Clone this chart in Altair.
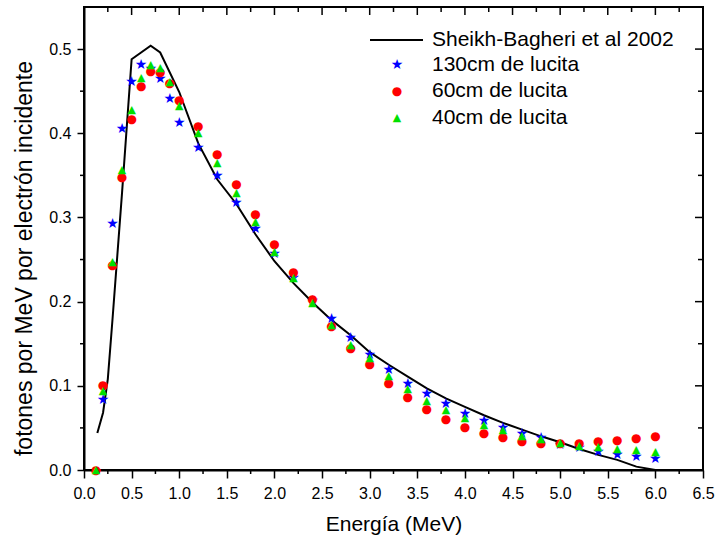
import altair as alt
import pandas as pd

# ---------------- data ----------------
series_names = ["Sheikh-Bagheri et al 2002", "130cm de lucita", "60cm de lucita", "40cm de lucita"]
series_colors = ["#000000", "#0000ff", "#ff0000", "#00e000"]
point_glyphs = ["★", "●", "▲"]
glyph_sizes = [14, 12, 11]

# Sheikh-Bagheri et al 2002 (line)
sb_energy = [0.14, 0.2, 0.25, 0.3, 0.4, 0.5, 0.7, 0.8, 1.0, 1.2, 1.4, 1.6, 1.8, 2.0, 2.2, 2.4, 2.6,
             2.8, 3.0, 3.2, 3.4, 3.6, 3.8, 4.0, 4.2, 4.4, 4.6, 4.8, 5.0, 5.2, 5.4, 5.6, 5.8, 6.0]
sb_values = [0.044, 0.068, 0.108, 0.18, 0.33, 0.488, 0.504, 0.496, 0.449, 0.388, 0.345, 0.316,
             0.280, 0.248, 0.222, 0.199, 0.178, 0.160, 0.140, 0.125, 0.111, 0.097, 0.085, 0.075,
             0.065, 0.056, 0.048, 0.040, 0.033, 0.025, 0.018, 0.012, 0.004, 0.0]

# 130cm de lucita (blue stars)
e130 = [0.2, 0.3, 0.4, 0.5, 0.6, 0.7, 0.8, 0.9, 1.0, 1.2, 1.4, 1.6, 1.8, 2.0, 2.2, 2.4, 2.6, 2.8,
        3.0, 3.2, 3.4, 3.6, 3.8, 4.0, 4.2, 4.4, 4.6, 4.8, 5.0, 5.2, 5.4, 5.6, 5.8, 6.0]
v130 = [0.083, 0.292, 0.405, 0.461, 0.481, 0.476, 0.464, 0.441, 0.412, 0.382, 0.3495, 0.3175,
        0.286, 0.256, 0.228, 0.201, 0.179, 0.157, 0.137, 0.119, 0.102, 0.090, 0.078, 0.067,
        0.058, 0.0495, 0.0427, 0.0376, 0.0297, 0.0257, 0.021, 0.0178, 0.0158, 0.0127]

# 60cm de lucita (red circles)
e60 = [0.125, 0.2, 0.3, 0.4, 0.5, 0.6, 0.7, 0.8, 0.9, 1.0, 1.2, 1.4, 1.6, 1.8, 2.0, 2.2, 2.4, 2.6,
       2.8, 3.0, 3.2, 3.4, 3.6, 3.8, 4.0, 4.2, 4.4, 4.6, 4.8, 5.0, 5.2, 5.4, 5.6, 5.8, 6.0]
v60 = [0.0, 0.101, 0.244, 0.348, 0.417, 0.456, 0.474, 0.473, 0.460, 0.439, 0.4085, 0.375, 0.340,
       0.3036, 0.268, 0.2348, 0.2035, 0.171, 0.1445, 0.126, 0.103, 0.087, 0.072, 0.060, 0.0515,
       0.0435, 0.0388, 0.0344, 0.0325, 0.0325, 0.0325, 0.0344, 0.0356, 0.0376, 0.0404]

# 40cm de lucita (green triangles)
e40 = [0.125, 0.2, 0.3, 0.4, 0.5, 0.6, 0.7, 0.8, 0.9, 1.0, 1.2, 1.4, 1.6, 1.8, 2.0, 2.2, 2.4, 2.6,
       2.8, 3.0, 3.2, 3.4, 3.6, 3.8, 4.0, 4.2, 4.4, 4.6, 4.8, 5.0, 5.2, 5.4, 5.6, 5.8, 6.0]
v40 = [0.0, 0.094, 0.247, 0.356, 0.428, 0.466, 0.481, 0.478, 0.461, 0.432, 0.4006, 0.365, 0.329,
       0.2945, 0.259, 0.228, 0.1987, 0.172, 0.149, 0.133, 0.112, 0.096, 0.0823, 0.0713, 0.062,
       0.0535, 0.0475, 0.0404, 0.0368, 0.0325, 0.0289, 0.027, 0.025, 0.0238, 0.0217]

# tick values
x_major = [0.0, 0.5, 1.0, 1.5, 2.0, 2.5, 3.0, 3.5, 4.0, 4.5, 5.0, 5.5, 6.0, 6.5]
x_minor = [0.25, 0.75, 1.25, 1.75, 2.25, 2.75, 3.25, 3.75, 4.25, 4.75, 5.25, 5.75, 6.25]
y_major = [0.0, 0.1, 0.2, 0.3, 0.4, 0.5]
y_minor = [0.05, 0.15, 0.25, 0.35, 0.45]

# ---------------- layout ----------------
W, H = 619, 463
FONT = "Liberation Sans"
GFONT = "DejaVu Sans"
xscale = alt.Scale(domain=[0, 6.5], nice=False, zero=False)
yscale = alt.Scale(domain=[0, 0.55], nice=False, zero=False)

x_axis = alt.Axis(orient="bottom", values=x_major, format=".1f", tickSize=8, tickWidth=1.5,
                  domainWidth=2, domainColor="black", tickColor="black", labelFontSize=16,
                  labelPadding=7, labelFont=FONT, labelColor="black", labelOverlap=False,
                  labelFlush=False, grid=False, title="Energía (MeV)", titleFont=FONT,
                  titleFontSize=21, titleFontWeight="normal", titleColor="black", titleY=60,
                  titleBaseline="alphabetic")
y_axis = alt.Axis(orient="left", values=y_major, format=".1f", tickSize=7, tickWidth=1.5,
                  domainWidth=2, domainColor="black", tickColor="black", labelFontSize=16,
                  labelPadding=6, labelFont=FONT, labelColor="black", labelOverlap=False,
                  labelFlush=False, grid=False, title="fotones por MeV por electrón incidente",
                  titleFont=FONT, titleFontSize=23, titleFontWeight="normal", titleColor="black",
                  titleX=-53, titleY=251, titleBaseline="alphabetic", titleAlign="center",
                  titleAngle=270)

line = alt.Chart(pd.DataFrame({"energia": sb_energy, "valor": sb_values})).mark_line(
    color=series_colors[0], strokeWidth=2).encode(
    x=alt.X("energia:Q", scale=xscale, axis=x_axis),
    y=alt.Y("valor:Q", scale=yscale, axis=y_axis),
)

def xrule(vals, y0, y1):
    return alt.Chart(pd.DataFrame({"energia": vals})).mark_rule(color="black", strokeWidth=1.5).encode(
        x=alt.X("energia:Q", scale=xscale), y=alt.value(y0), y2=alt.value(y1))

def yrule(vals, x0, x1):
    return alt.Chart(pd.DataFrame({"valor": vals})).mark_rule(color="black", strokeWidth=1.5).encode(
        y=alt.Y("valor:Q", scale=yscale), x=alt.value(x0), x2=alt.value(x1))

ticks = [
    xrule(x_minor, H, H + 4),      # bottom minor (outward)
    yrule(y_minor, 0, -4),         # left minor (outward)
    xrule(x_major, 0, 8),          # top major (inward)
    xrule(x_minor, 0, 5),          # top minor (inward)
    yrule(y_major, W, W - 8),      # right major (inward)
    yrule(y_minor, W, W - 5),      # right minor (inward)
]

# markers drawn as glyphs (star, disc, triangle)
point_layers = []
for xs, ys, col, g, gs in zip([e130, e60, e40], [v130, v60, v40], series_colors[1:],
                              point_glyphs, glyph_sizes):
    point_layers.append(
        alt.Chart(pd.DataFrame({"energia": xs, "valor": ys})).mark_text(
            text=g, font=GFONT, fontSize=gs, color=col, align="center", baseline="middle").encode(
            x=alt.X("energia:Q", scale=xscale),
            y=alt.Y("valor:Q", scale=yscale),
        )
    )

# ---------------- legend (inside the plot, top right) ----------------
LEG_ROWS = [33, 58, 84, 111]
LEG_SYM_X = 313
LEG_TXT_X = 348
one = pd.DataFrame({"k": [0]})
legend_layers = [
    alt.Chart(one).mark_rule(color=series_colors[0], strokeWidth=2).encode(
        x=alt.value(LEG_SYM_X - 27), x2=alt.value(LEG_SYM_X + 26), y=alt.value(LEG_ROWS[0]))
]
for i, (col, g, gs) in enumerate(zip(series_colors[1:], point_glyphs, glyph_sizes)):
    legend_layers.append(
        alt.Chart(one).mark_text(text=g, font=GFONT, fontSize=gs, color=col,
                                 align="center", baseline="middle").encode(
            x=alt.value(LEG_SYM_X), y=alt.value(LEG_ROWS[i + 1])))
for i, name in enumerate(series_names):
    legend_layers.append(
        alt.Chart(pd.DataFrame({"nombre": [name]})).mark_text(
            align="left", baseline="middle", font=FONT, fontSize=21, color="black").encode(
            x=alt.value(LEG_TXT_X), y=alt.value(LEG_ROWS[i]), text="nombre:N"))

chart = alt.layer(line, *ticks, *point_layers, *legend_layers).properties(
    width=W, height=H,
    autosize=alt.AutoSizeParams(type="none"),
    padding={"left": 84, "top": 7, "right": 14, "bottom": 72},
    background="white",
).configure_view(stroke="black", strokeWidth=2)

chart.save("out.html", embed_options={"renderer": "svg", "actions": False})
